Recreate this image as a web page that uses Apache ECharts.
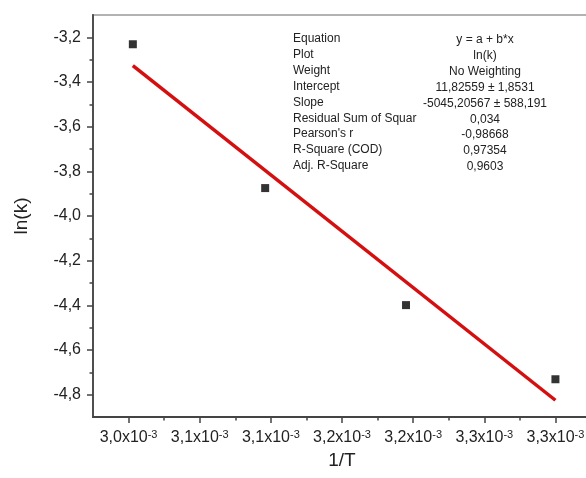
<!DOCTYPE html>
<html>
<head>
<meta charset="utf-8">
<script src="https://cdn.jsdelivr.net/npm/echarts@6/dist/echarts.min.js"></script>
<style>
html,body{margin:0;padding:0;background:#fff;overflow:hidden;}
#c{width:586px;height:478px;}
</style>
</head>
<body>
<div id="c"></div>
<script>
// ---- data ----
const invT = [0.003003, 0.003096, 0.003195, 0.003300];
const lnK = [-3.231, -3.875, -4.399, -4.731];
const fitX = [0.003003, 0.003300];
const fitY = [-3.327, -4.825];
const xTickValues = [0.0030, 0.00305, 0.0031, 0.00315, 0.0032, 0.00325, 0.0033];
const xTickLabels = ['3,0', '3,1', '3,1', '3,2', '3,2', '3,3', '3,3'];
const xMinorValues = [0.003025, 0.003075, 0.003125, 0.003175, 0.003225, 0.003275, 0.003325];
const yTickValues = [-4.8, -4.6, -4.4, -4.2, -4.0, -3.8, -3.6, -3.4, -3.2];
const yTickLabels = ['-4,8', '-4,6', '-4,4', '-4,2', '-4,0', '-3,8', '-3,6', '-3,4', '-3,2'];
const yMinorValues = [-4.7, -4.5, -4.3, -4.1, -3.9, -3.7, -3.5, -3.3];
const statLabels = ['Equation', 'Plot', 'Weight', 'Intercept', 'Slope', 'Residual Sum of Squar', "Pearson's r", 'R-Square (COD)', 'Adj. R-Square'];
const statValues = ['y = a + b*x', 'ln(k)', 'No Weighting', '11,82559 \u00b1 1,8531', '-5045,20567 \u00b1 588,191', '0,034', '-0,98668', '0,97354', '0,9603'];

const FONT = 'Liberation Sans, Arial, sans-serif';
const X_MIN = 0.002975, X_MAX = 0.003325, Y_MIN = -4.9, Y_MAX = -3.1;

function findIdx(arr, v) {
  return arr.findIndex(t => Math.abs(t - v) < 1e-7);
}

const chart = echarts.init(document.getElementById('c'), null, {renderer: 'canvas'});

const graphics = [];
statLabels.forEach((s, i) => {
  const y = 40 + i * 15.85;
  graphics.push({type: 'text', left: 293, top: y - 7, style: {text: s, font: '12px ' + FONT, fill: '#222', textVerticalAlign: 'top'}});
  graphics.push({type: 'text', x: 485, y: y, style: {text: statValues[i], font: '12px ' + FONT, fill: '#222', textAlign: 'center', textVerticalAlign: 'middle'}});
});

const axisLineStyle = {color: '#444', width: 1.8};

chart.setOption({
  animation: false,
  backgroundColor: '#fff',
  grid: {left: 93, top: 15, width: 498, height: 402, containLabel: false, outerBoundsMode: 'none',
         show: true, borderColor: '#999', borderWidth: 1.5, backgroundColor: 'transparent'},
  xAxis: [{
    type: 'value', min: X_MIN, max: X_MAX, position: 'bottom',
    name: '1/T', nameLocation: 'middle', nameGap: 28,
    nameTextStyle: {fontFamily: FONT, fontSize: 19, color: '#222'},
    axisLine: {show: true, onZero: false, lineStyle: axisLineStyle},
    axisTick: {show: true, length: 6, customValues: xTickValues, lineStyle: {color: '#444', width: 1.5}},
    axisLabel: {
      customValues: xTickValues, margin: 12, color: '#222',
      formatter: v => { const i = findIdx(xTickValues, v); return i < 0 ? '' : '{b|' + xTickLabels[i] + 'x10}{s|-3}'; },
      rich: {
        b: {fontFamily: FONT, fontSize: 16, color: '#222', lineHeight: 18},
        s: {fontFamily: FONT, fontSize: 11, color: '#222', verticalAlign: 'top', lineHeight: 11}
      }
    },
    splitLine: {show: false}
  }, {
    type: 'value', min: X_MIN, max: X_MAX, position: 'bottom', offset: 0,
    axisLine: {show: false, onZero: false},
    axisTick: {show: true, length: 3.5, customValues: xMinorValues, lineStyle: {color: '#444', width: 1.5}},
    axisLabel: {show: false},
    splitLine: {show: false}
  }],
  yAxis: [{
    type: 'value', min: Y_MIN, max: Y_MAX, position: 'left',
    name: 'ln(k)', nameLocation: 'middle', nameGap: 62, nameRotate: 90,
    nameTextStyle: {fontFamily: FONT, fontSize: 19, color: '#222'},
    axisLine: {show: true, onZero: false, lineStyle: axisLineStyle},
    axisTick: {show: true, length: 6, customValues: yTickValues, lineStyle: {color: '#444', width: 1.5}},
    axisLabel: {
      customValues: yTickValues, margin: 12, color: '#222', fontFamily: FONT, fontSize: 16,
      formatter: v => { const i = findIdx(yTickValues, v); return i < 0 ? '' : yTickLabels[i]; }
    },
    splitLine: {show: false}
  }, {
    type: 'value', min: Y_MIN, max: Y_MAX, position: 'left', offset: 0,
    axisLine: {show: false, onZero: false},
    axisTick: {show: true, length: 3.5, customValues: yMinorValues, lineStyle: {color: '#444', width: 1.5}},
    axisLabel: {show: false},
    splitLine: {show: false}
  }],
  series: [{
    type: 'line', xAxisIndex: 0, yAxisIndex: 0,
    data: fitX.map((x, i) => [x, fitY[i]]),
    showSymbol: false, symbol: 'none',
    lineStyle: {color: '#d40f0f', width: 3.5}
  }, {
    type: 'scatter', xAxisIndex: 0, yAxisIndex: 0,
    data: invT.map((x, i) => [x, lnK[i]]),
    symbol: 'rect', symbolSize: 8,
    itemStyle: {color: '#000'}
  }],
  graphic: graphics
});
</script>
</body>
</html>
